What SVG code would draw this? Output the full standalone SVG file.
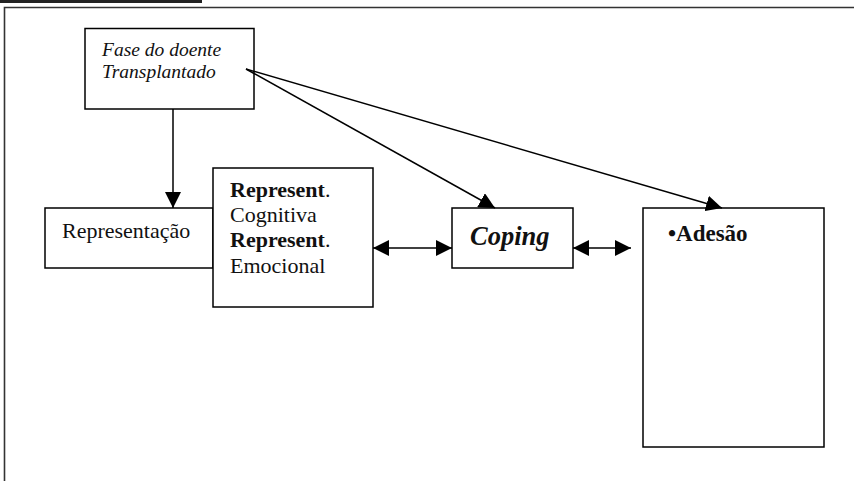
<svg xmlns="http://www.w3.org/2000/svg" width="854" height="481" viewBox="0 0 854 481">
<defs>
<marker id="ah" markerWidth="16" markerHeight="16" refX="16" refY="8" orient="auto-start-reverse" markerUnits="userSpaceOnUse">
<path d="M0,0 L16,8 L0,16 Z" fill="#000"/>
</marker>
<style>
.box{fill:#fff;stroke:#000;stroke-width:1.5}
.t{font-family:"Liberation Serif","Times New Roman",serif;fill:#111}
.c{stroke:#000;stroke-width:1.5;fill:none}
</style>
</defs>
<rect x="0" y="0" width="854" height="481" fill="#fff"/>
<rect x="0" y="0" width="202" height="3" fill="#222"/>
<path d="M4.5,481 V7.5 H854" fill="none" stroke="#333" stroke-width="1.6"/>
<g id="fase">
<rect class="box" x="85" y="28.5" width="169" height="80.5"/>
<text class="t" x="102" y="56" font-size="19.5" font-style="italic">Fase do doente</text>
<text class="t" x="102" y="78" font-size="19.5" font-style="italic">Transplantado</text>
</g>
<g id="representacao">
<rect class="box" x="45" y="208" width="168" height="60"/>
<text class="t" x="62" y="238" font-size="22">Representação</text>
</g>
<g id="represent">
<rect class="box" x="213" y="168" width="160" height="139"/>
<text class="t" x="230" y="197" font-size="22"><tspan font-weight="bold">Represent</tspan>.</text>
<text class="t" x="230" y="222" font-size="22">Cognitiva</text>
<text class="t" x="230" y="247" font-size="22"><tspan font-weight="bold">Represent</tspan>.</text>
<text class="t" x="230" y="273" font-size="22">Emocional</text>
</g>
<g id="coping">
<rect class="box" x="452" y="208" width="121" height="60"/>
<text class="t" x="470" y="245" font-size="26.5" font-weight="bold" font-style="italic">Coping</text>
</g>
<g id="adesao">
<rect class="box" x="643" y="208" width="181" height="239"/>
<text class="t" x="668" y="241" font-size="23" font-weight="bold">•Adesão</text>
</g>
<g id="connectors">
<line class="c" x1="173" y1="109" x2="173" y2="208" marker-end="url(#ah)"/>
<line class="c" x1="246" y1="69" x2="495" y2="208" marker-end="url(#ah)"/>
<line class="c" x1="246" y1="69" x2="722" y2="208" marker-end="url(#ah)"/>
<line class="c" x1="373" y1="248" x2="452" y2="248" marker-start="url(#ah)" marker-end="url(#ah)"/>
<line class="c" x1="573" y1="248" x2="631" y2="248" marker-start="url(#ah)" marker-end="url(#ah)"/>
</g>
</svg>
